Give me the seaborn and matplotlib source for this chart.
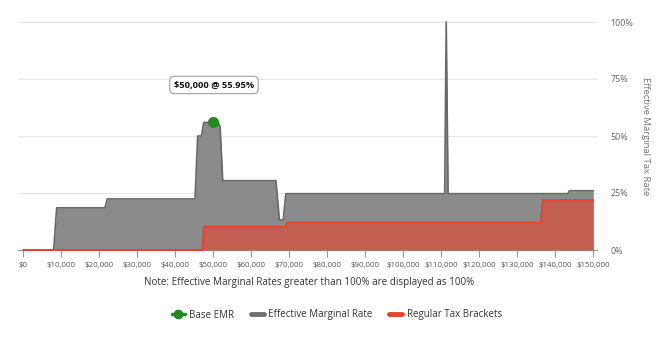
import matplotlib
matplotlib.use("Agg")
import matplotlib.pyplot as plt
import seaborn as sns
import numpy as np
import pandas as pd
from matplotlib.lines import Line2D
from matplotlib.ticker import FuncFormatter

# ---- data ----
emr_income = [0, 8000, 8800, 21500, 22100, 45200, 45900, 46900, 47500, 51300, 51800,
              52500, 66500, 67400, 68400, 69100, 110900, 111300, 111800, 143300,
              143700, 150000]
emr_rate = [0, 0, 18.5, 18.5, 22.4, 22.4, 50.0, 50.0, 55.95, 55.95, 54.1,
            30.4, 30.4, 13.2, 13.2, 24.7, 24.7, 100.0, 24.7, 24.7,
            26.0, 26.0]

bracket_income = [0, 47200, 47500, 69000, 69500, 136200, 136700, 150000]
bracket_rate = [0, 0, 10.2, 10.2, 12.0, 12.0, 21.9, 21.9]

base_income = [50000]
base_rate = [55.95]

x_ticks = list(range(0, 150001, 10000))
y_ticks = [0, 25, 50, 75, 100]

# ---- style ----
sns.set_theme(style="white")
plt.rcParams["font.family"] = ["Open Sans", "DejaVu Sans"]

fig = plt.figure(figsize=(6.7, 3.41), dpi=100)
ax = fig.add_axes([18.3 / 670, 1 - 250 / 341, (596.7 - 18.3) / 670, 228 / 341])

gray_fill = "#8b8b8b"
gray_line = "#686868"
red = "#e8432b"
green = "#1f8a1f"

ax.fill_between(emr_income, emr_rate, 0, color=gray_fill, lw=0, zorder=2)
sns.lineplot(x=emr_income, y=emr_rate, ax=ax, color=gray_line, lw=1.2,
             estimator=None, sort=False, zorder=3)
ax.fill_between(bracket_income, bracket_rate, 0, color=red, alpha=0.6, lw=0, zorder=4)
sns.lineplot(x=bracket_income, y=bracket_rate, ax=ax, color=red, lw=1.4,
             estimator=None, sort=False, zorder=5)
sns.scatterplot(x=base_income, y=base_rate, ax=ax, color=green, s=55,
                edgecolor=green, zorder=6)

ax.annotate(f"${base_income[0]:,} @ {base_rate[0]:.2f}%",
            xy=(base_income[0], base_rate[0]), xytext=(0.5, 27),
            textcoords="offset points", ha="center", va="center",
            fontsize=6.7, fontweight="bold", color="#111111",
            bbox=dict(boxstyle="round,pad=0.45,rounding_size=0.5",
                      fc="white", ec="#a0a0a0", lw=0.8), zorder=10)

ax.set_xlim(-1300, 150900)
ax.set_ylim(0, 100)
ax.set_xticks(x_ticks)
ax.xaxis.set_major_formatter(FuncFormatter(lambda v, p: f"${int(v):,}"))
ax.set_yticks(y_ticks)
ax.yaxis.set_major_formatter(FuncFormatter(lambda v, p: f"{int(v)}%"))
ax.yaxis.tick_right()
ax.yaxis.set_label_position("right")
ax.tick_params(axis="y", length=0, pad=10, labelsize=6.4, labelcolor="#666666")
ax.tick_params(axis="x", length=5, width=0.8, color="#999999", direction="out",
               pad=3.5, labelsize=5.7, labelcolor="#555555", bottom=True)
ax.set_ylabel("Effective Marginal Tax Rate", rotation=270, labelpad=12,
              fontsize=6.8, color="#777777")
ax.set_xlabel("")

for y in y_ticks[1:]:
    ax.axhline(y, color="#e6e6e6", lw=0.8, zorder=0)
for s in ["top", "left", "right"]:
    ax.spines[s].set_visible(False)
ax.spines["bottom"].set_color("#999999")
ax.spines["bottom"].set_linewidth(0.8)
ax.spines["bottom"].set_zorder(1)
for c in ax.collections + ax.lines:
    c.set_clip_on(False)

fig.text(309 / 670, 1 - 283 / 341,
         "Note: Effective Marginal Rates greater than 100% are displayed as 100%",
         ha="center", va="center", fontsize=7.1, color="#333333")

handles = [
    Line2D([], [], color=green, marker="o", lw=2.5, markersize=6),
    Line2D([], [], color="#707070", lw=3.5),
    Line2D([], [], color=red, lw=3.5),
]
labels = ["Base EMR", "Effective Marginal Rate", "Regular Tax Brackets"]
fig.legend(handles, labels, loc="center", bbox_to_anchor=(337 / 670, 1 - 315 / 341),
           ncol=3, frameon=False, fontsize=7.0, handlelength=1.3,
           handletextpad=0.5, columnspacing=1.7, labelcolor="#333333")

fig.savefig("out.png", dpi=100)
